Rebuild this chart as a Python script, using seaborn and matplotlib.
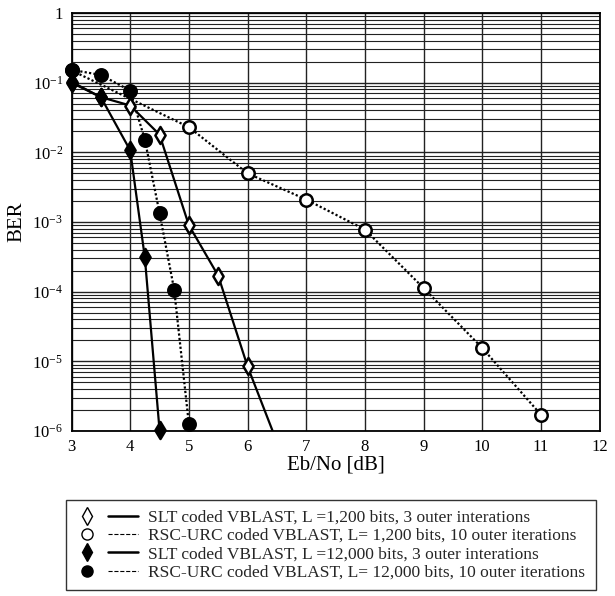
import numpy as np
import pandas as pd
import matplotlib
matplotlib.use("Agg")
import matplotlib.pyplot as plt
import seaborn as sns
from matplotlib.lines import Line2D
from matplotlib.legend_handler import HandlerBase
from matplotlib.ticker import LogLocator, FixedLocator, NullFormatter

# ---- data ----
x_slt_1200 = [3, 3.5, 4, 4.5, 5, 5.5, 6, 6.5]
ber_slt_1200 = [0.10, 0.062, 0.047, 0.018, 9.0e-4, 1.7e-4, 8.5e-6, 7.0e-7]

x_rsc_1200 = [3, 5, 6, 7, 8, 9, 10, 11]
ber_rsc_1200 = [0.15, 0.023, 5.0e-3, 2.1e-3, 7.8e-4, 1.13e-4, 1.56e-5, 1.72e-6]

x_slt_12000 = [3, 3.5, 4, 4.25, 4.5]
ber_slt_12000 = [0.103, 0.062, 0.0107, 3.1e-4, 1.05e-6]

x_rsc_12000 = [3, 3.5, 4, 4.25, 4.5, 4.75, 5]
ber_rsc_12000 = [0.153, 0.129, 0.077, 0.0152, 1.35e-3, 1.07e-4, 1.27e-6]

labels = [
    "SLT coded VBLAST, L =1,200 bits, 3 outer interations",
    "RSC-URC coded VBLAST, L= 1,200 bits, 10 outer iterations",
    "SLT coded VBLAST, L =12,000 bits, 3 outer interations",
    "RSC-URC coded VBLAST, L= 12,000 bits, 10 outer iterations",
]
x_ticks = [3, 4, 5, 6, 7, 8, 9, 10, 11, 12]
y_ticks = [1e-6, 1e-5, 1e-4, 1e-3, 1e-2, 1e-1, 1]
y_tick_labels = [r"$\mathregular{10^{-6}}$", r"$\mathregular{10^{-5}}$", r"$\mathregular{10^{-4}}$",
                 r"$\mathregular{10^{-3}}$", r"$\mathregular{10^{-2}}$", r"$\mathregular{10^{-1}}$", "1"]

sns.set_theme(style="white")
plt.rcParams["font.family"] = ["Liberation Serif", "DejaVu Serif"]
plt.rcParams["mathtext.fontset"] = "custom"
plt.rcParams["mathtext.rm"] = "Liberation Serif"

fig = plt.figure(figsize=(6.15, 5.96), dpi=100)
ax = fig.add_axes([71.5 / 615, 1 - 431 / 596, (599.5 - 71.5) / 615, (431 - 13) / 596])

styles = [
    dict(ls="-", marker="d", mfc="white"),
    dict(ls=(0, (1, 1)), marker="o", mfc="white"),
    dict(ls="-", marker="d", mfc="black"),
    dict(ls=(0, (1, 1)), marker="o", mfc="black"),
]
series = [(x_slt_1200, ber_slt_1200), (x_rsc_1200, ber_rsc_1200),
          (x_slt_12000, ber_slt_12000), (x_rsc_12000, ber_rsc_12000)]

for (xs, ys), st in zip(series, styles):
    df = pd.DataFrame({"x": xs, "y": ys})
    sns.lineplot(data=df, x="x", y="y", ax=ax, color="black", lw=1.6,
                 linestyle=st["ls"], estimator=None, sort=False, zorder=3)
    vis = df[df["y"] >= 0.99e-6]
    msize = 75 if st["marker"] == "d" else 80
    sns.scatterplot(data=vis, x="x", y="y", ax=ax, marker=st["marker"], s=msize,
                    facecolor=st["mfc"], edgecolor="black", linewidth=1.8,
                    zorder=4, clip_on=False, legend=False)

ax.set_yscale("log")
ax.set_xlim(3, 12)
ax.set_ylim(1e-6, 1)
ax.xaxis.set_major_locator(FixedLocator(x_ticks))
ax.set_xticklabels([str(t) for t in x_ticks])
ax.yaxis.set_major_locator(FixedLocator(y_ticks))
ax.set_yticklabels(y_tick_labels)
ax.yaxis.set_minor_locator(LogLocator(base=10, subs=np.arange(2, 10), numticks=20))
ax.yaxis.set_minor_formatter(NullFormatter())

ax.grid(True, which="major", axis="both", color="#222222", lw=1.0)
ax.grid(True, which="minor", axis="y", color="#222222", lw=0.8)
ax.set_axisbelow(True)
for sp in ax.spines.values():
    sp.set_color("black")
    sp.set_linewidth(1.3)
ax.tick_params(axis="both", which="both", length=0, labelsize=12, pad=6, colors="black")

ax.set_xlabel("Eb/No [dB]", fontsize=15, labelpad=0, color="black")
ax.set_ylabel("BER", fontsize=15, labelpad=4, color="black")


class MarkerLineHandler(HandlerBase):
    """Legend key: a marker on the left, then a short line sample."""
    def create_artists(self, legend, orig_handle, xdescent, ydescent, width,
                       height, fontsize, trans):
        mk, ln = orig_handle
        y = height / 2.0 - ydescent
        x0 = -xdescent
        m = Line2D([x0 + 0.185 * width], [y], ls="none", marker=mk.get_marker(),
                   ms=mk.get_markersize(), mfc=mk.get_markerfacecolor(),
                   mec="black", mew=mk.get_markeredgewidth(), transform=trans)
        l = Line2D([x0 + 0.52 * width, x0 + width], [y, y], color="black",
                   ls=ln.get_linestyle(), lw=ln.get_linewidth(), transform=trans)
        return [m, l]


handles = []
for st in styles:
    mk = Line2D([], [], ls="none", marker=st["marker"], ms=9 if st["marker"] == "d" else 8,
                mfc=st["mfc"], mec="black", mew=1.0)
    ln = Line2D([], [], color="black", ls="-" if st["ls"] == "-" else (0, (1, 2.2)),
                lw=1.8 if st["ls"] == "-" else 0.8)
    handles.append((mk, ln))

leg = fig.legend(handles, labels, handler_map={tuple: MarkerLineHandler()},
                 loc="upper left", bbox_to_anchor=(65.7 / 615, 0, (596 - 65.7) / 615, 1 - 500 / 596),
                 mode="expand", borderaxespad=0, fontsize=12.5, handlelength=3.6,
                 handletextpad=0.58, labelspacing=0.12, borderpad=0.56,
                 fancybox=False, frameon=True, edgecolor="black")
leg.get_frame().set_linewidth(1.0)

fig.savefig("out.png", dpi=100, facecolor="white")
